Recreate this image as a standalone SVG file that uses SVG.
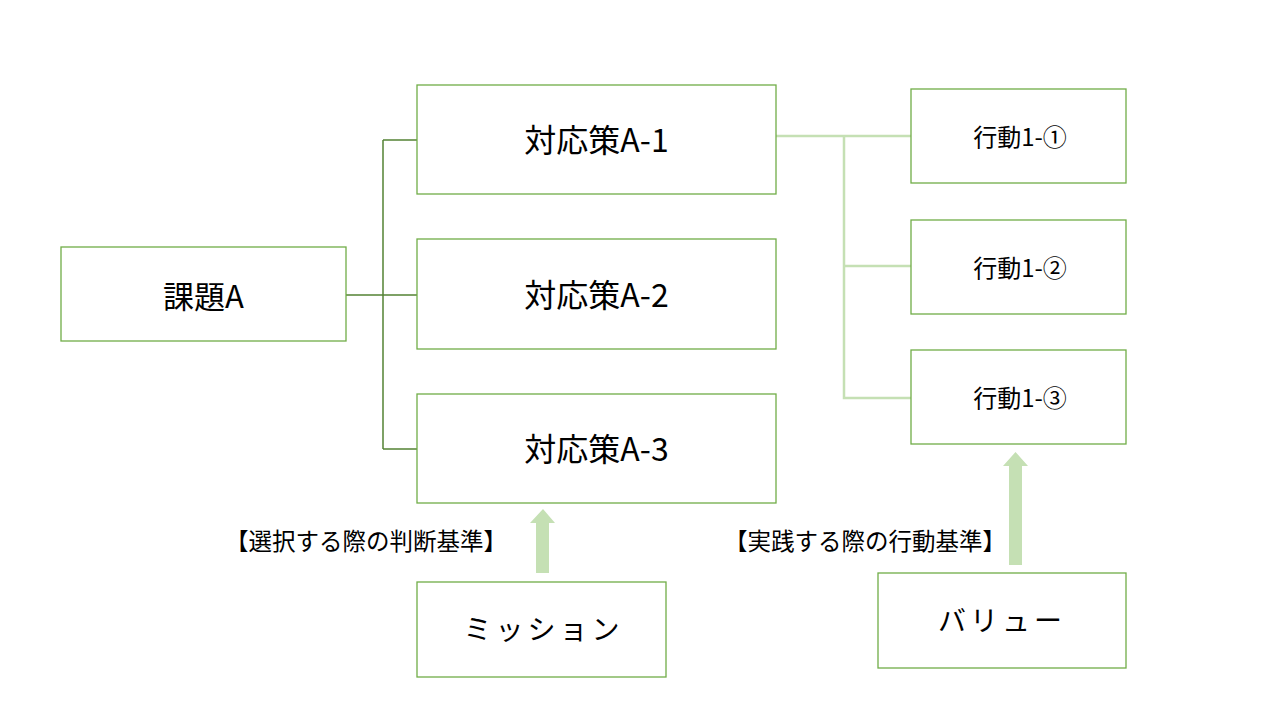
<svg xmlns="http://www.w3.org/2000/svg" width="1280" height="720" viewBox="0 0 1280 720">
<style>
.box{fill:#fff;stroke:#70AD47;stroke-width:1.3}
.t{font-family:"Noto Sans CJK JP","Noto Sans",sans-serif;fill:#000;text-anchor:middle;dominant-baseline:central}
.l1{stroke:#548235;stroke-width:1.5;fill:none}
.l2{stroke:#C5E0B4;stroke-width:2.5;fill:none}
.arr{fill:#C5E0B4}
</style>
<rect width="1280" height="720" fill="#fff"/>
<g id="connectors">
<path class="l1" d="M346 295H383M383 140V449M383 140H417M383 295H417M383 449H417"/>
<path class="l2" d="M776 136H911M844 136V398H911M844 266H911"/>
<path class="arr" d="M543 509L555 523H549V573H536V523H530Z"/>
<path class="arr" d="M1015.5 452L1028 466H1022V565H1009V466H1003Z"/>
</g>
<g id="kadai"><rect class="box" x="61" y="247" width="285" height="94"/><text class="t" x="203.5" y="294" font-size="31">課題A</text></g>
<g id="a1"><rect class="box" x="417" y="85" width="359" height="109"/><text class="t" x="596.5" y="138" font-size="32">対応策A-1</text></g>
<g id="a2"><rect class="box" x="417" y="239" width="359" height="110"/><text class="t" x="596.5" y="293" font-size="32">対応策A-2</text></g>
<g id="a3"><rect class="box" x="417" y="394" width="359" height="109"/><text class="t" x="596.5" y="447" font-size="32">対応策A-3</text></g>
<g id="k1"><rect class="box" x="911" y="89" width="215" height="94"/><text class="t" x="1020" y="135" font-size="24">行動1-①</text></g>
<g id="k2"><rect class="box" x="911" y="220" width="215" height="94"/><text class="t" x="1020" y="266" font-size="24">行動1-②</text></g>
<g id="k3"><rect class="box" x="911" y="350" width="215" height="94"/><text class="t" x="1020" y="396" font-size="24">行動1-③</text></g>
<g id="mission"><rect class="box" x="417" y="582" width="249" height="95"/><text class="t" x="543.5" y="628" font-size="28" letter-spacing="4">ミッション</text></g>
<g id="value"><rect class="box" x="878" y="573" width="248" height="95"/><text class="t" x="1002" y="619" font-size="28" letter-spacing="4">バリュー</text></g>
<g id="labels">
<text class="t" x="366" y="540" font-size="23.5">【選択する際の判断基準】</text>
<text class="t" x="865" y="540" font-size="23.5">【実践する際の行動基準】</text>
</g>
</svg>
